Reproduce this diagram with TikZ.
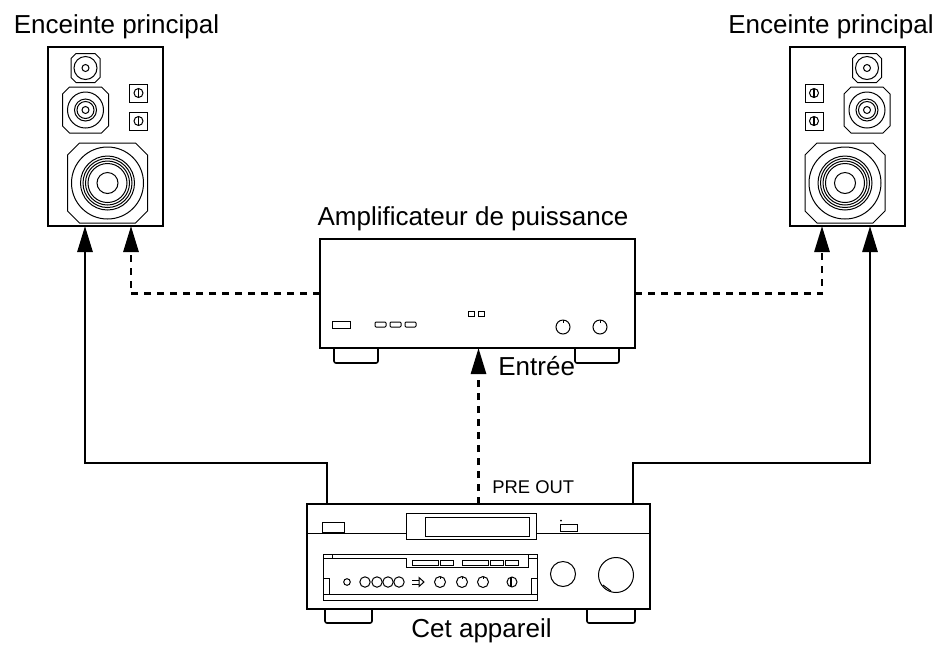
\documentclass[tikz,border=0pt]{standalone}
\usepackage{fontspec}
\setmainfont{Liberation Sans}
\usetikzlibrary{arrows.meta}

\tikzset{
	lbl/.style={font=\fontsize{13}{15}\selectfont, inner sep=0pt},
	small/.style={font=\fontsize{9.2}{11}\selectfont, inner sep=0pt},
	body/.style={draw, line width=1pt, inner sep=0pt, outer sep=0pt},
	part/.style={line width=0.5pt},
	wire/.style={line width=1.4pt, -{Triangle[length=13pt,width=7.5pt]}},
	link/.style={wire, dash pattern=on 3.5pt off 3pt},
	pics/octo/.style 2 args={code={
		\draw[part] (-#1+#2,-#1) -- (#1-#2,-#1) -- (#1,-#1+#2) -- (#1,#1-#2) -- (#1-#2,#1) -- (-#1+#2,#1) -- (-#1,#1-#2) -- (-#1,-#1+#2) -- cycle;
	}},
	pics/level/.style={code={
		\draw[part] (-9,-9) rectangle (9,9);
		\draw[part] (0,0) circle (4.5);
		\draw[line width=0.9pt] (0,-4.5) -- (0,4.5);
	}},
	pics/speaker/.style={code={
		% tweeter
		\pic at (-20,-68.5) {octo={14.5}{5}};
		\foreach \r in {11.5,3.5} \draw[part] (-20,-68.5) circle (\r);
		% mid
		\pic at (-20,-26.5) {octo={23}{7}};
		\foreach \r in {18,11,8.5,3.5} \draw[part] (-20,-26.5) circle (\r);
		% levels
		\pic at (33,-43.5) {level};
		\pic at (33,-15.5) {level};
		% woofer
		\pic at (2,46.5) {octo={40}{12}};
		\foreach \r in {36,27,24.5,22,19.5,10.5} \draw[part] (2,46.5) circle (\r);
	}},
}

\begin{document}
\begin{tikzpicture}[x=0.5pt,y=-0.5pt]
	\useasboundingbox (0,0) rectangle (938,650);

	% speakers
	\node[body, minimum width=57.5pt, minimum height=89.5pt] (spkL) at (105.5,136.5) {};
	\node[body, minimum width=57.5pt, minimum height=89.5pt] (spkR) at (847,136.5) {};
	\pic at (spkL) {speaker};
	\pic[xscale=-1] at (spkR) {speaker};
	\node[lbl, anchor=base] (tSpkL) at (116.5,33) {Enceinte principal};
	\node[lbl, anchor=base] (tSpkR) at (831,33) {Enceinte principal};

	% power amp
	\node[body, minimum width=157.5pt, minimum height=54.5pt] (amp) at (477.5,293.5) {};
	\draw[part, line width=0.8pt, rounded corners=1pt] (334,348) -- (334,363) -- (378,363) -- (378,348);
	\draw[part, line width=0.8pt, rounded corners=1pt] (575,348) -- (575,363) -- (619,363) -- (619,348);
	\draw[part] (332,321) rectangle (350,328);
	\foreach \x in {375,390,405} \draw[part, rounded corners=0.5pt] (\x,322) rectangle ++(11,5);
	\foreach \x in {468,478} \draw[part] (\x,311) rectangle ++(6,5);
	\foreach \x in {563,600} {
		\draw[part] (\x,327) circle (7);
		\draw[part] (\x,320) -- (\x,322.5);
	}
	\node[lbl, anchor=base] (tAmp) at (473,225) {Amplificateur de puissance};
	\node[lbl, anchor=base west] (tIn) at (498,375) {Entrée};

	% receiver
	\node[body, minimum width=171.5pt, minimum height=52.5pt] (rcv) at (478.5,556.5) {};
	\draw[part, line width=0.8pt, rounded corners=1pt] (325,609) -- (325,623) -- (372,623) -- (372,609);
	\draw[part, line width=0.8pt, rounded corners=1pt] (587,609) -- (587,623) -- (635,623) -- (635,609);
	\draw[part] (307,533) -- (406,533) (536,533) -- (650,533);
	\draw[part] (406,513) rectangle (536,539);
	\draw[part] (425,517) rectangle (529,536);
	\draw[part] (322,522) rectangle (344,532);
	\draw[part] (560,524) rectangle (577,531);
	\fill (561,520.5) circle (1);
	% front panel
	\draw[part] (323,554) rectangle (537,600);
	\draw[part] (323,558) -- (406,558) -- (406,567) -- (528,567) -- (528,558) -- (537,558);
	\draw[part] (332,554) -- (332,558) (528,554) -- (528,558);
	\draw[part] (323,594) -- (537,594);
	\draw[part] (329,594) -- (329,578) -- (323,578);
	\draw[part] (531,594) -- (531,578) -- (537,578);
	\foreach \x/\w in {412/26,440/13,462/26,490/13,505/13} \draw[part] (\x,560) rectangle ++(\w,5);
	\draw[part] (416,567) -- (438,567);
	\draw[part] (347,582) circle (3.3);
	\foreach \x in {365,377,388,399} \draw[part] (\x,582) circle (5.2);
	\draw[part] (412,580) -- (419,580) (412,584) -- (419,584);
	\draw[part] (419,577.5) -- (424,582) -- (419,586.5) -- cycle;
	\foreach \x in {440,462,483} {
		\draw[part] (\x,582) circle (5.5);
		\draw[part] (\x,576.5) -- (\x,579);
	}
	\draw[part] (512,582) circle (5);
	\draw[line width=1pt] (511,577) -- (511,587);
	\draw[part] (563,574) circle (12.5);
	\draw[part] (616,575) circle (17.5);
	\draw[part] (603,585) -- (611,591);
	\node[small, anchor=base west] (tPre) at (492,493) {PRE OUT};
	\node[lbl, anchor=base] (tRcv) at (481.5,637) {Cet appareil};

	% connections
	\coordinate (jL) at (85,463);
	\coordinate (jR) at (870,463);
	\draw[wire] ([xshift=10pt]rcv.north west) |- (jL) -- (spkL.south -| jL);
	\draw[wire] ([xshift=-8.5pt]rcv.north east) |- (jR) -- (spkR.south -| jR);
	\draw[link] (amp.west) -| ([xshift=12.75pt]spkL.south);
	\draw[link] (amp.east) -| ([xshift=-12.5pt]spkR.south);
	\draw[link] (rcv.north) -- (rcv.north |- amp.south);
\end{tikzpicture}
\end{document}
